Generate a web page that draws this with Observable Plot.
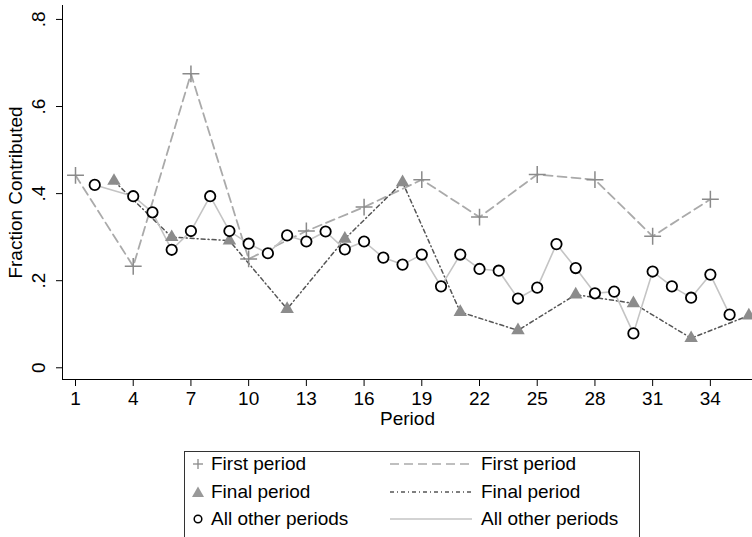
<!DOCTYPE html>
<html><head><meta charset="utf-8">
<script src="https://cdn.jsdelivr.net/npm/d3@7"></script>
<script src="https://cdn.jsdelivr.net/npm/@observablehq/plot@0.6"></script>
<style>
body{margin:0;background:#fff;font-family:"Liberation Sans",Arial,Helvetica,sans-serif;}
#wrap{position:relative;width:752px;height:537px;overflow:hidden;background:#fff;}
#legend{position:absolute;left:184px;top:451px;width:456px;height:110px;border:1px solid #333;box-sizing:border-box;font-size:19px;color:#000;}
.row{position:absolute;left:0;height:28px;width:100%;}
.row svg{position:absolute;top:0;}
.row span{position:absolute;top:1px;line-height:22px;white-space:nowrap;}
</style></head><body><div id="wrap"></div>
<script>
// ---- data ----
const firstPeriods = [1,4,7,10,13,16,19,22,25,28,31,34];
const firstValues  = [0.442,0.233,0.675,0.250,0.314,0.369,0.432,0.346,0.444,0.432,0.302,0.387];
const finalPeriods = [3,6,9,12,15,18,21,24,27,30,33,36];
const finalValues  = [0.429,0.300,0.292,0.135,0.296,0.426,0.128,0.086,0.168,0.148,0.068,0.120];
const otherPeriods = [2,4,5,6,7,8,9,10,11,12,13,14,15,16,17,18,19,20,21,22,23,24,25,26,27,28,29,30,31,32,33,34,35];
const otherValues  = [0.420,0.394,0.357,0.271,0.314,0.394,0.314,0.285,0.263,0.304,0.290,0.313,0.272,0.290,0.253,0.237,0.260,0.187,0.260,0.227,0.223,0.159,0.184,0.284,0.229,0.171,0.175,0.079,0.221,0.187,0.161,0.214,0.122];
const xTicks = [1,4,7,10,13,16,19,22,25,28,31,34];
const yTicks = [0,0.2,0.4,0.6,0.8];
const yTickLabels = ["0",".2",".4",".6",".8"];
const seriesNames = ["First period","Final period","All other periods"];
const xTitle = "Period";
const yTitle = "Fraction Contributed";

const toRows = (ps, vs) => ps.map((p,i)=>({period:p, value:vs[i]}));
const first = toRows(firstPeriods, firstValues);
const final = toRows(finalPeriods, finalValues);
const other = toRows(otherPeriods, otherValues);

const xDomain = [0.324, 36.19];
const yDomain = [-0.0269, 0.832];
const FONT = '"Liberation Sans",Arial,Helvetica,sans-serif';

const chart = Plot.plot({
  width: 752, height: 440,
  marginLeft: 62, marginRight: 0, marginTop: 5, marginBottom: 61,
  style: {fontFamily: FONT, fontSize: "19px", color: "#000", background: "#fff", overflow: "visible"},
  x: {domain: xDomain},
  y: {domain: yDomain},
  marks: [
    Plot.ruleX([xDomain[0]], {stroke: "#000", strokeWidth: 1}),
    Plot.ruleY([yDomain[0]], {stroke: "#000", strokeWidth: 1}),
    Plot.axisX({ticks: xTicks, tickSize: 7, tickPadding: 5, fontSize: 19, label: null, tickFormat: d => String(d), stroke: "#000", fill: "#000"}),
    Plot.axisY({ticks: yTicks, tickSize: 6, label: null, tickFormat: () => "", stroke: "#000"}),
    Plot.text(yTicks, {y: d => d, text: (d,i) => yTickLabels[i], frameAnchor: "left", textAnchor: "middle", lineAnchor: "middle", rotate: -90, dx: -24, fontSize: 19, fill: "#000"}),
    Plot.text([yTitle], {frameAnchor: "left", textAnchor: "middle", lineAnchor: "middle", rotate: -90, dx: -47, fontSize: 19, fill: "#000"}),
    Plot.text([xTitle], {frameAnchor: "bottom", textAnchor: "middle", lineAnchor: "middle", dy: 39, fontSize: 19, fill: "#000"}),
    Plot.line(first, {x: "period", y: "value", stroke: "#aaaaaa", strokeWidth: 1.8, strokeDasharray: "9,5"}),
    Plot.line(final, {x: "period", y: "value", stroke: "#555555", strokeWidth: 1.5, strokeDasharray: "4,3,1,3"}),
    Plot.line(other, {x: "period", y: "value", stroke: "#c4c4c4", strokeWidth: 1.6}),
    Plot.dot(first, {x: "period", y: "value", symbol: "plus", r: 5.5, stroke: "#8a8a8a", strokeWidth: 1.5}),
    Plot.dot(final, {x: "period", y: "value", symbol: "triangle", r: 5, fill: "#8c8c8c", stroke: "none"}),
    Plot.dot(other, {x: "period", y: "value", symbol: "circle", r: 5.2, fill: "#fff", stroke: "#000", strokeWidth: 1.8})
  ]
});
const wrap = document.getElementById("wrap");
wrap.appendChild(chart);

// ---- legend ----
const legend = document.createElement("div");
legend.id = "legend";
const swatches = [
  '<line x1="-5" x2="5" y1="0" y2="0" stroke="#8a8a8a" stroke-width="1.3"/><line x1="0" x2="0" y1="-5" y2="5" stroke="#8a8a8a" stroke-width="1.3"/>',
  '<path d="M0,-5.5L6,5L-6,5Z" fill="#999"/>',
  '<circle r="3.8" fill="#fff" stroke="#000" stroke-width="1.5"/>'
];
const lineStyles = [
  'stroke="#aaaaaa" stroke-width="1.5" stroke-dasharray="9,5"',
  'stroke="#555" stroke-width="1.3" stroke-dasharray="4,3,1,3"',
  'stroke="#c4c4c4" stroke-width="1.5"'
];
seriesNames.forEach((name, i) => {
  const row = document.createElement("div");
  row.className = "row";
  row.style.top = (i * 27.5) + "px";
  row.innerHTML =
    `<svg width="30" height="28" style="left:0"><g transform="translate(13,12)">${swatches[i]}</g></svg>` +
    `<span style="left:26px">${name}</span>` +
    `<svg width="86" height="28" style="left:203px"><line x1="2" x2="84" y1="12" y2="12" ${lineStyles[i]}/></svg>` +
    `<span style="left:296px">${name}</span>`;
  legend.appendChild(row);
});
wrap.appendChild(legend);
</script></body></html>
